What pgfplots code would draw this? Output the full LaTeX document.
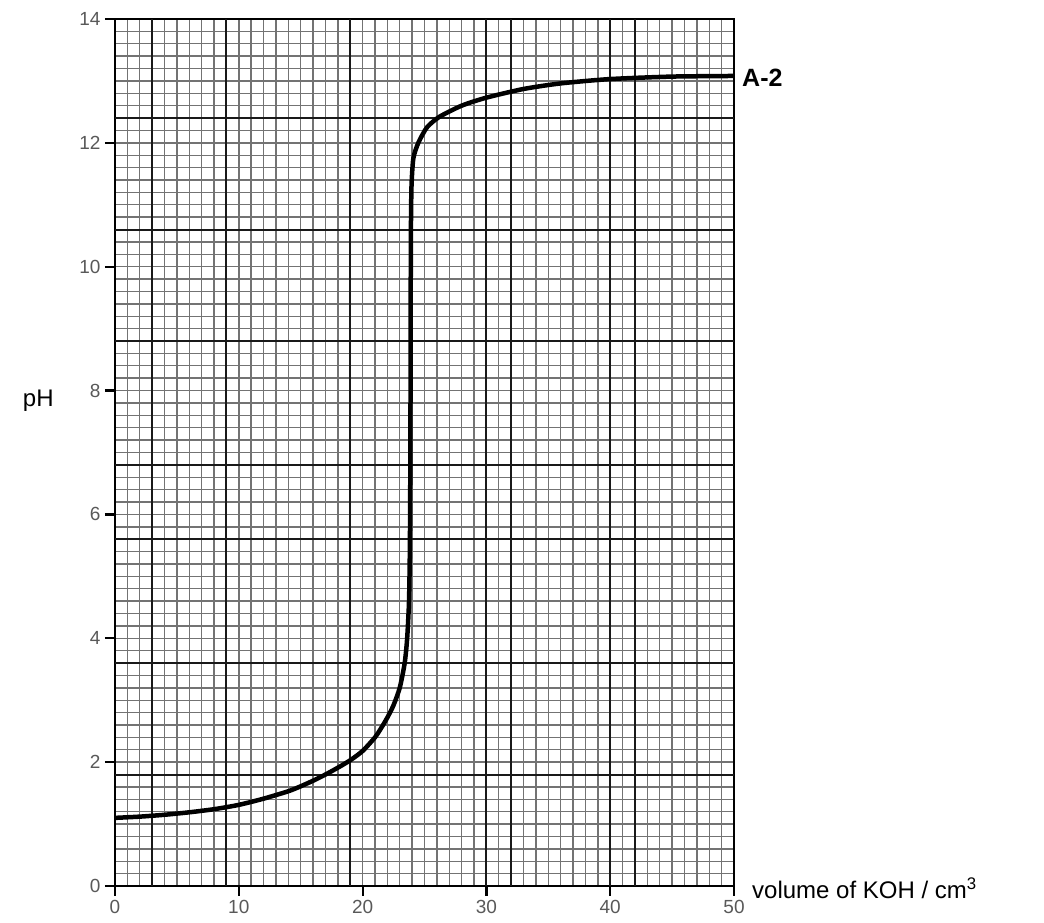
\documentclass[border=0pt]{standalone}
\usepackage{pgfplots}
\pgfplotsset{compat=1.18}
\usepackage{fontspec}
\setmainfont{Liberation Sans}
\begin{document}
\begin{tikzpicture}[x=1pt,y=1pt]
\path[use as bounding box] (0,0) rectangle (1044,923);
\begin{axis}[
  at={(115pt,37pt)}, anchor=south west,
  scale only axis, width=619pt, height=867pt,
  xmin=0, xmax=50, ymin=0, ymax=14,
  xtick={0,10,...,50}, ytick={0,2,...,14},
  minor x tick num=9, minor y tick num=9,
  grid=both,
  minor grid style={black!55, line width=1.4pt},
  major grid style={black!55, line width=1.4pt},
  minor tick length=0pt,
  major tick length=10pt,
  tick align=outside,
  xtick pos=bottom, ytick pos=left,
  tick style={black, line width=2.2pt},
  axis line style={black, line width=2pt},
  /pgf/number format/assume math mode=true,
  tick label style={font=\fontsize{19}{21}\selectfont, text=black!65},
  xticklabel style={yshift=-1pt},
  yticklabel style={xshift=-1pt},
  extra x ticks={3,9,19,30,32,40,42},
  extra y ticks={1.8,3.6,5.6,6.8,8.8,10.6,12.4},
  extra x tick labels={}, extra y tick labels={},
  extra tick style={grid=major, major grid style={black!90, line width=2pt}, major tick length=0pt},
  clip=false,
]
\addplot[black, line width=4.5pt, line join=round, smooth, tension=0.4] coordinates {
(0,1.10) (2,1.12) (4,1.15) (6,1.19) (8,1.24) (10,1.31) (12,1.41) (14,1.53)
(15,1.61) (16,1.70) (17,1.80) (18,1.91) (19,2.03) (20,2.18) (21,2.40)
(21.5,2.55) (22,2.72) (22.5,2.92) (23,3.20) (23.4,3.60) (23.6,4.00)
(23.75,4.60) (23.82,5.5) (23.86,7.0) (23.88,9.0)
(23.9,10.5) (23.95,11.3) (24.1,11.75) (24.5,12.0) (25.2,12.25) (26.2,12.42)
(28,12.6) (30,12.73) (33,12.87) (36,12.96) (40,13.03) (45,13.07) (50,13.08)
};
\node[anchor=west, font=\fontsize{25}{28}\selectfont\bfseries, inner sep=0pt] at (axis cs:50,13.05) [xshift=8pt] {A-2};
\node[anchor=center, font=\fontsize{24}{26}\selectfont, inner sep=0pt] at (rel axis cs:-0.124,0.56) {pH};
\node[anchor=west, font=\fontsize{24}{26}\selectfont, inner sep=0pt] at (rel axis cs:1.029,0) [yshift=-2pt] {volume of KOH / cm\textsuperscript{3}};
\end{axis}
\end{tikzpicture}
\end{document}
